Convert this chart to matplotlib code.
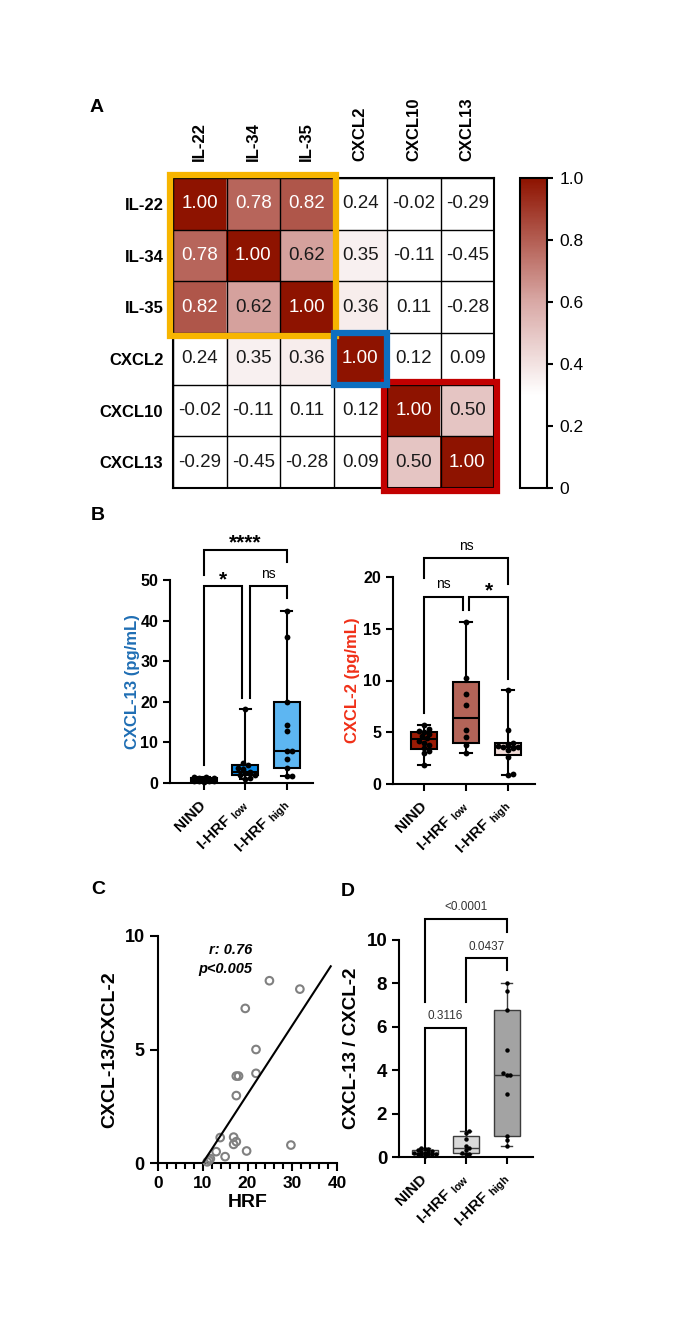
import numpy as np
import matplotlib
matplotlib.use('Agg')
import matplotlib.pyplot as plt
from matplotlib.colors import LinearSegmentedColormap
from matplotlib.patches import Rectangle
from matplotlib.ticker import MultipleLocator

plt.rcParams['font.family'] = ['Liberation Sans', 'DejaVu Sans']

# ---------------- data ----------------
markers = ['IL-22', 'IL-34', 'IL-35', 'CXCL2', 'CXCL10', 'CXCL13']
corr_il22 = [1.00, 0.78, 0.82, 0.24, -0.02, -0.29]
corr_il34 = [0.78, 1.00, 0.62, 0.35, -0.11, -0.45]
corr_il35 = [0.82, 0.62, 1.00, 0.36, 0.11, -0.28]
corr_cxcl2 = [0.24, 0.35, 0.36, 1.00, 0.12, 0.09]
corr_cxcl10 = [-0.02, -0.11, 0.11, 0.12, 1.00, 0.50]
corr_cxcl13 = [-0.29, -0.45, -0.28, 0.09, 0.50, 1.00]

group_labels = ['NIND', r'I-HRF $_{\mathregular{low}}$', r'I-HRF $_{\mathregular{high}}$']

cxcl13_nind = [0.3, 0.4, 0.5, 0.5, 0.6, 0.7, 0.8, 0.8, 0.9, 1.0, 1.1, 1.2, 1.3, 1.4, 1.5]
cxcl13_low = [1.0, 1.3, 1.9, 2.0, 2.5, 2.8, 3.5, 3.6, 4.4, 5.0, 18.2]
cxcl13_high = [1.8, 1.8, 3.6, 5.8, 7.9, 7.9, 12.8, 14.2, 19.9, 35.9, 42.4]

cxcl2_nind = [1.8, 3.0, 3.2, 3.5, 3.8, 4.0, 4.2, 4.4, 4.6, 4.8, 5.0, 5.1, 5.3, 5.7]
cxcl2_low = [3.0, 3.8, 4.5, 5.2, 7.6, 8.7, 10.2, 15.7]
cxcl2_high = [0.9, 1.0, 2.6, 3.3, 3.5, 3.6, 3.6, 3.7, 3.9, 4.0, 5.2, 9.1]

hrf = [24.9, 31.7, 19.5, 21.9, 17.5, 18.0, 21.9, 17.5, 13.9, 16.9, 17.5, 16.9,
       19.8, 29.7, 13.0, 15.0, 11.7, 11.4, 11.0]
ratio_c = [8.03, 7.66, 6.81, 5.00, 3.83, 3.83, 3.95, 2.97, 1.12, 1.14, 0.94, 0.82,
           0.53, 0.79, 0.50, 0.28, 0.19, 0.12, 0.05]
fit_slope = 0.303
fit_intercept = -3.03
fit_xmax = 38.6

ratio_nind = [0.05, 0.08, 0.10, 0.12, 0.14, 0.15, 0.18, 0.20, 0.22, 0.25, 0.28, 0.30, 0.35, 0.38, 0.42]
ratio_low = [0.12, 0.15, 0.20, 0.30, 0.40, 0.50, 0.85, 1.12, 1.18]
ratio_high = [0.49, 0.77, 0.95, 2.92, 3.80, 3.80, 3.89, 4.95, 6.77, 7.65, 8.03]

# ---------------- figure ----------------
W, H = 684, 1331
fig = plt.figure(figsize=(W / 100, H / 100), dpi=100)


def ax_px(l, t, r, b):
    return fig.add_axes([l / W, 1 - b / H, (r - l) / W, (b - t) / H])


# ---------------- Panel A ----------------
corr = np.array([corr_il22, corr_il34, corr_il35, corr_cxcl2, corr_cxcl10, corr_cxcl13])
axA = ax_px(173, 178, 494, 488)
cmap = LinearSegmentedColormap.from_list(
    'wr', [(0, '#ffffff'), (0.3, '#ffffff'), (0.6, '#d9a9a6'), (1.0, '#8e1300')])
im = axA.imshow(corr, cmap=cmap, vmin=0, vmax=1, aspect='auto', interpolation='nearest')
n = len(markers)
for i in range(n + 1):
    axA.axhline(i - 0.5, color='black', lw=1)
    axA.axvline(i - 0.5, color='black', lw=1)
for r in range(n):
    for c in range(n):
        v = corr[r, c]
        axA.text(c, r, f'{v:.2f}', ha='center', va='center', fontsize=13.5,
                 color='white' if v > 0.7 else '#1a1a1a')
axA.set_xticks(range(n))
axA.set_xticklabels(markers, rotation=90, fontweight='bold', fontsize=12)
axA.set_yticks(range(n))
axA.set_yticklabels(markers, fontweight='bold', fontsize=12)
axA.xaxis.tick_top()
axA.tick_params(axis='x', length=0, pad=12)
axA.tick_params(axis='y', length=0, pad=7)
for s in axA.spines.values():
    s.set_linewidth(1.5)

axA.add_patch(Rectangle((-0.55, -0.55), 3.1, 3.1, fill=False, ec='#F7B500', lw=4.5, clip_on=False, zorder=5))
axA.add_patch(Rectangle((2.5, 2.5), 1.0, 1.0, fill=False, ec='#0E6FC0', lw=4.5, clip_on=False, zorder=6))
axA.add_patch(Rectangle((3.45, 3.45), 2.1, 2.1, fill=False, ec='#C20000', lw=4.5, clip_on=False, zorder=5))

cax = ax_px(520, 178, 547, 488)
cb = fig.colorbar(im, cax=cax)
cb.set_ticks([0, 0.2, 0.4, 0.6, 0.8, 1.0])
cb.set_ticklabels(['0', '0.2', '0.4', '0.6', '0.8', '1.0'])
cb.outline.set_linewidth(1.5)
cax.tick_params(labelsize=12.5, width=1.5, length=4, pad=5)

# ---------------- helpers ----------------


def style_axes(ax, lw=1.5):
    for s in ['top', 'right']:
        ax.spines[s].set_visible(False)
    for s in ['left', 'bottom']:
        ax.spines[s].set_linewidth(lw)
    ax.tick_params(width=lw, length=5, direction='out')


def swarm_x(ax, pos, vals, diam, max_px):
    trans = ax.transData
    vals = np.asarray(vals, float)
    ypx = trans.transform(np.column_stack([np.full(len(vals), pos), vals]))[:, 1]
    ppu = trans.transform([[pos + 1, 0]])[0, 0] - trans.transform([[pos, 0]])[0, 0]
    order = np.argsort(vals, kind='stable')
    placed = []
    offs = np.zeros(len(vals))
    step = diam * 0.5
    cands = [0.0]
    k = 1
    while k * step <= max_px:
        cands += [k * step, -k * step]
        k += 1
    for i in order:
        best, best_d = None, -1
        for cnd in cands:
            if placed:
                d = min(np.hypot(cnd - px, ypx[i] - py) for px, py in placed)
            else:
                d = np.inf
            if d >= diam * 0.9:
                best = cnd
                break
            if d > best_d:
                best, best_d = cnd, d
        placed.append((best, ypx[i]))
        offs[i] = best / ppu
    return pos + offs


def draw_box(ax, pos, vals, fc, ec, lw, ms, diam, max_px):
    q1, med, q3 = np.percentile(vals, [25, 50, 75], method='weibull')
    stats = [dict(med=med, q1=q1, q3=q3, whislo=min(vals), whishi=max(vals), fliers=[])]
    ax.bxp(stats, positions=[pos], widths=0.63, capwidths=0.27, patch_artist=True,
           showfliers=False, manage_ticks=False,
           boxprops=dict(facecolor=fc, edgecolor=ec, linewidth=lw),
           medianprops=dict(color=ec, linewidth=lw),
           whiskerprops=dict(color=ec, linewidth=lw),
           capprops=dict(color=ec, linewidth=lw), zorder=2)
    xs = swarm_x(ax, pos, vals, diam, max_px)
    ax.plot(xs, vals, 'o', color='black', ms=ms, mew=0, zorder=4, clip_on=False)


def bracket(ax, x1, x2, y, yl1, yl2, lw=1.5, color='black'):
    ax.plot([x1, x1, x2, x2], [yl1, y, y, yl2], color=color, lw=lw, clip_on=False,
            solid_joinstyle='miter', zorder=3)


def group_xticks(ax, fs=11):
    ax.set_xticks([0, 1, 2])
    ax.set_xticklabels(group_labels, rotation=45, ha='right', va='center',
                       rotation_mode='anchor', fontweight='bold', fontsize=fs)
    ax.tick_params(axis='x', pad=9)


# ---------------- Panel B left ----------------
axB1 = ax_px(170, 580, 313, 783)
style_axes(axB1)
axB1.set_xlim(-0.82, 2.63)
axB1.set_ylim(0, 50)
axB1.set_yticks([0, 10, 20, 30, 40, 50])
axB1.set_yticklabels(['0', '10', '20', '30', '40', '50'], fontweight='bold', fontsize=11.5)
draw_box(axB1, 0, cxcl13_nind, '#1a1a1a', 'black', 1.5, 4.2, 5.0, 12)
draw_box(axB1, 1, cxcl13_low, '#0A8AE6', 'black', 1.5, 4.2, 5.0, 12)
draw_box(axB1, 2, cxcl13_high, '#5DB6F2', 'black', 1.5, 4.2, 5.0, 12)
group_xticks(axB1)
bracket(axB1, 0, 2, 57.4, 51.2, 54.5)
axB1.text(1, 57.9, '****', ha='center', va='baseline', fontsize=15, fontweight='bold', clip_on=False)
bracket(axB1, 0, 0.91, 48.5, 4.5, 21)
axB1.text(0.455, 48.7, '*', ha='center', va='baseline', fontsize=15, fontweight='bold', clip_on=False)
bracket(axB1, 1.1, 2, 48.5, 21, 45.5)
axB1.text(1.55, 50.4, 'ns', ha='center', va='baseline', fontsize=10, clip_on=False)
axB1.set_ylabel('CXCL-13 (pg/mL)', fontweight='bold', fontsize=12, color='#1F6EB4')
axB1.yaxis.set_label_coords((140 - 170) / 143, 0.5)

# ---------------- Panel B right ----------------
axB2 = ax_px(393, 577, 535, 784)
style_axes(axB2)
axB2.set_xlim(-0.74, 2.64)
axB2.set_ylim(0, 20)
axB2.set_yticks([0, 5, 10, 15, 20])
axB2.set_yticklabels(['0', '5', '10', '15', '20'], fontweight='bold', fontsize=11.5)
draw_box(axB2, 0, cxcl2_nind, '#9B1B05', 'black', 1.5, 4.2, 5.0, 12)
draw_box(axB2, 1, cxcl2_low, '#B46458', 'black', 1.5, 4.2, 5.0, 12)
draw_box(axB2, 2, cxcl2_high, '#F2DCD8', 'black', 1.5, 4.2, 5.0, 12)
group_xticks(axB2)
bracket(axB2, 0, 2, 21.8, 19.9, 19.3)
axB2.text(1, 22.6, 'ns', ha='center', va='baseline', fontsize=10, clip_on=False)
bracket(axB2, 0, 0.93, 18.1, 6.9, 16.8)
axB2.text(0.465, 18.9, 'ns', ha='center', va='baseline', fontsize=10, clip_on=False)
bracket(axB2, 1.07, 2, 18.1, 16.8, 10.1)
axB2.text(1.535, 18.15, '*', ha='center', va='baseline', fontsize=15, fontweight='bold', clip_on=False)
axB2.set_ylabel('CXCL-2 (pg/mL)', fontweight='bold', fontsize=12, color='#F03018')
axB2.yaxis.set_label_coords((360 - 393) / 142, 0.5)

# ---------------- Panel C ----------------
axC = ax_px(158, 936, 337, 1163)
style_axes(axC)
axC.set_xlim(0, 40)
axC.set_ylim(0, 10)
axC.set_xticks([0, 10, 20, 30, 40])
axC.set_xticklabels(['0', '10', '20', '30', '40'], fontweight='bold', fontsize=12.5)
axC.set_yticks([0, 5, 10])
axC.set_yticklabels(['0', '5', '10'], fontweight='bold', fontsize=13)
axC.xaxis.set_minor_locator(MultipleLocator(2))
axC.tick_params(axis='both', which='major', length=6)
axC.tick_params(axis='x', which='minor', length=4, width=1.5)
axC.scatter(hrf, ratio_c, s=30, facecolors='none', edgecolors='#808080', linewidths=1.5,
            zorder=3, clip_on=False)
fx0 = -fit_intercept / fit_slope
fxs = np.array([fx0, fit_xmax])
axC.plot(fxs, fit_slope * fxs + fit_intercept, color='black', lw=1.5, zorder=4)
axC.text(21, 9.38, 'r: 0.76', ha='right', va='center', fontsize=10.5, fontweight='bold', style='italic')
axC.text(21, 8.55, 'p<0.005', ha='right', va='center', fontsize=10.5, fontweight='bold', style='italic')
axC.set_xlabel('HRF', fontweight='bold', fontsize=14, labelpad=2)
axC.set_ylabel('CXCL-13/CXCL-2', fontweight='bold', fontsize=14)
axC.yaxis.set_label_coords((118 - 158) / 179, 0.5)

# ---------------- Panel D ----------------
axD = ax_px(399, 940, 533, 1157)
style_axes(axD)
axD.set_xlim(-0.63, 2.64)
axD.set_ylim(0, 10)
axD.set_yticks([0, 2, 4, 6, 8, 10])
axD.set_yticklabels(['0', '2', '4', '6', '8', '10'], fontweight='bold', fontsize=13.5)
draw_box(axD, 0, ratio_nind, '#e3e3e3', '#3c3c3c', 1.0, 3.2, 3.6, 11)
draw_box(axD, 1, ratio_low, '#d9d9d9', '#3c3c3c', 1.0, 3.2, 3.6, 11)
draw_box(axD, 2, ratio_high, '#a3a3a3', '#3c3c3c', 1.0, 3.2, 3.6, 11)
group_xticks(axD)
bracket(axD, 0, 2, 10.97, 7.14, 10.37)
axD.text(1, 11.5, '<0.0001', ha='center', va='center', fontsize=8.5, color='#333333', clip_on=False)
bracket(axD, 1, 2, 9.18, 7.14, 8.6)
axD.text(1.5, 9.7, '0.0437', ha='center', va='center', fontsize=8.5, color='#333333', clip_on=False)
bracket(axD, 0, 1, 5.94, 0.3, 1.23)
axD.text(0.5, 6.5, '0.3116', ha='center', va='center', fontsize=8.5, color='#333333', clip_on=False)
axD.set_ylabel('CXCL-13 / CXCL-2', fontweight='bold', fontsize=13.5)
axD.yaxis.set_label_coords((360 - 399) / 134, 0.5)

# ---------------- panel letters ----------------
for lab, x, y in [('A', 97, 107), ('B', 98, 516), ('C', 98, 890), ('D', 348, 891)]:
    fig.text(x / W, 1 - y / H, lab, ha='center', va='center', fontsize=14, fontweight='bold')

fig.savefig('out.png', dpi=100, facecolor='white')
